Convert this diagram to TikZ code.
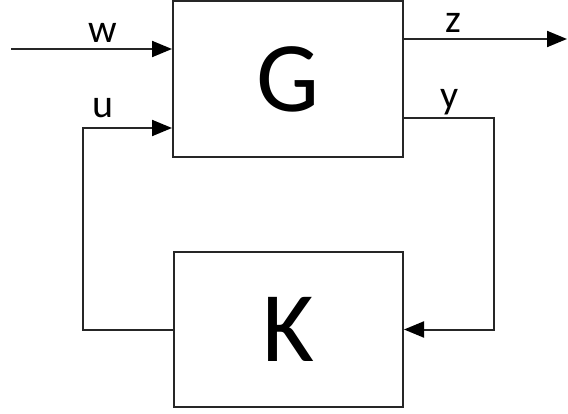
\documentclass[tikz,border=0pt]{standalone}
\usepackage{fontspec}
\setmainfont{Carlito}
\usetikzlibrary{arrows.meta}

\definecolor{linegray}{HTML}{262626}

\tikzset{
    plant/.style={draw=linegray, line width=2pt, minimum width=230pt, minimum height=156pt,
        inner sep=0pt, font=\fontsize{100}{100}\selectfont},
    sig/.style={draw=linegray, line width=2pt, -{Triangle[length=20pt,width=16pt,fill=black,color=black]}},
    lbl/.style={inner sep=0pt, font=\fontsize{40}{40}\selectfont}
}

\begin{document}
\begin{tikzpicture}[x=1pt,y=-1pt]
    \useasboundingbox (0,0) rectangle (568,414);

    % blocks
    \node[plant] (G) at (288,79) {G};
    \node[plant, minimum width=229pt, minimum height=155pt] (K) at (288.5,329.5) {K};

    % free ends and corners
    \coordinate (win) at (11,49);
    \coordinate (zout) at (567,39);
    \coordinate (ycorner) at (494,118);
    \coordinate (ucorner) at (83,128);

    % signals
    \draw[sig] (win) -- (win -| G.west);
    \draw[sig] (G.east |- zout) -- (zout);
    \draw[sig] (G.east |- ycorner) -- (ycorner) |- (K.east);
    \draw[sig] (K.west) -| (ucorner) -- (ucorner -| G.west);

    \node[lbl] (wlabel) at (103,33) {w};
    \node[lbl] (ulabel) at (103,108) {u};
    \node[lbl] (zlabel) at (453,23) {z};
    \node[lbl] (ylabel) at (450,102) {y};

\end{tikzpicture}
\end{document}
